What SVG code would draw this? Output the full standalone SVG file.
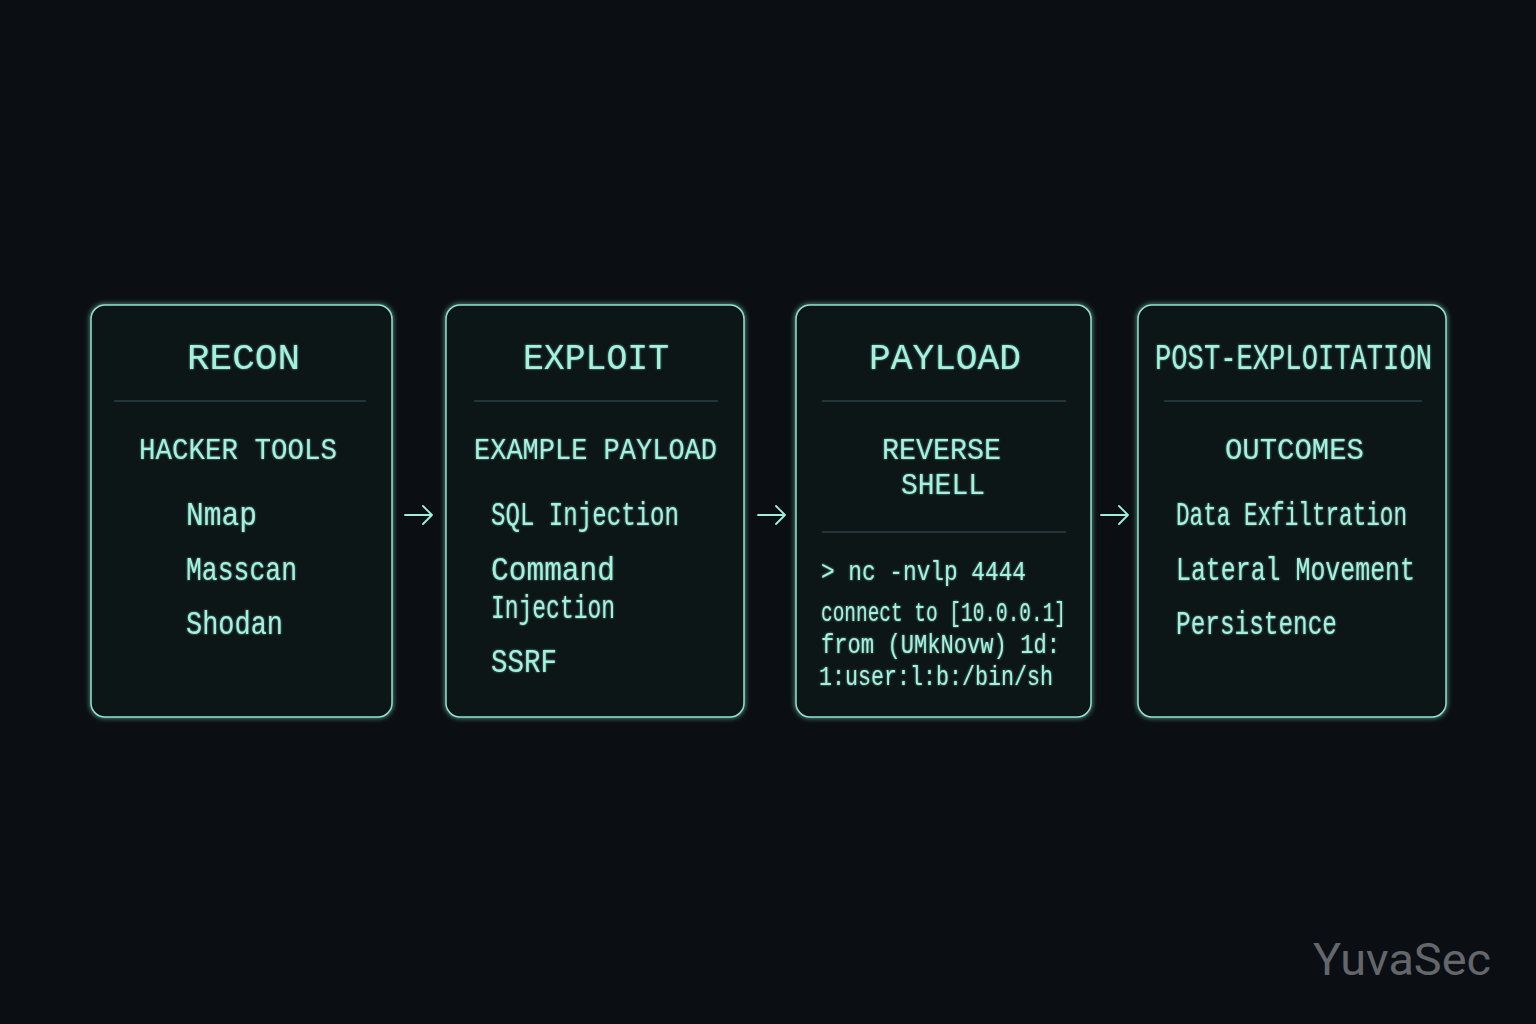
<svg xmlns="http://www.w3.org/2000/svg" width="1536" height="1024" viewBox="0 0 1536 1024">
<defs>
<style>
.box{fill:#0b1215;stroke:#8fe3cf;stroke-width:1.5}
.div{stroke:#2a4341;stroke-width:1.5}
text{font-family:"Liberation Mono","DejaVu Sans Mono",monospace;fill:#a3f2de}
.t{font-size:36px}
.s{font-size:30px}
.i{font-size:33px}
.m{font-size:28px}
.arr{fill:none;stroke:#9ff0dc;stroke-width:1.8;stroke-linecap:round;stroke-linejoin:round}
.wm{font-family:Roboto,"Liberation Sans",sans-serif;font-size:44px;fill:#63676c}
</style>
<filter id="glow" x="-10%" y="-10%" width="120%" height="120%">
<feGaussianBlur stdDeviation="2.5" result="b"/>
<feMerge><feMergeNode in="b"/><feMergeNode in="SourceGraphic"/></feMerge>
</filter>
<filter id="tglow" x="-10%" y="-30%" width="120%" height="160%">
<feGaussianBlur stdDeviation="1.2" result="b"/>
<feComponentTransfer in="b" result="c"><feFuncA type="linear" slope="0.6"/></feComponentTransfer>
<feMerge><feMergeNode in="c"/><feMergeNode in="SourceGraphic"/></feMerge>
</filter>
</defs>
<rect width="1536" height="1024" fill="#0b0f13"/>

<g id="recon">
<rect class="box" x="91" y="305" width="301" height="412" rx="14" filter="url(#glow)"/>
<line class="div" x1="114" y1="401" x2="366" y2="401"/>
<g filter="url(#tglow)">
<text class="t" x="187" y="369" textLength="113" lengthAdjust="spacingAndGlyphs">RECON</text>
<text class="s" x="139" y="459" textLength="198" lengthAdjust="spacingAndGlyphs">HACKER TOOLS</text>
<text class="i" x="186" y="525" textLength="71" lengthAdjust="spacingAndGlyphs">Nmap</text>
<text class="i" x="186" y="580" textLength="111" lengthAdjust="spacingAndGlyphs">Masscan</text>
<text class="i" x="186" y="634" textLength="97" lengthAdjust="spacingAndGlyphs">Shodan</text>
</g>
</g>

<g id="exploit">
<rect class="box" x="446" y="305" width="298" height="412" rx="14" filter="url(#glow)"/>
<line class="div" x1="474" y1="401" x2="718" y2="401"/>
<g filter="url(#tglow)">
<text class="t" x="523" y="369" textLength="146" lengthAdjust="spacingAndGlyphs">EXPLOIT</text>
<text class="s" x="474" y="459" textLength="243" lengthAdjust="spacingAndGlyphs">EXAMPLE PAYLOAD</text>
<text class="i" x="491" y="525" textLength="188" lengthAdjust="spacingAndGlyphs">SQL Injection</text>
<text class="i" x="491" y="580" textLength="124" lengthAdjust="spacingAndGlyphs">Command</text>
<text class="i" x="491" y="618" textLength="124" lengthAdjust="spacingAndGlyphs">Injection</text>
<text class="i" x="491" y="672" textLength="66" lengthAdjust="spacingAndGlyphs">SSRF</text>
</g>
</g>

<g id="payload">
<rect class="box" x="796" y="305" width="295" height="412" rx="14" filter="url(#glow)"/>
<line class="div" x1="822" y1="401" x2="1066" y2="401"/>
<line class="div" x1="822" y1="532" x2="1066" y2="532"/>
<g filter="url(#tglow)">
<text class="t" x="869" y="369" textLength="152" lengthAdjust="spacingAndGlyphs">PAYLOAD</text>
<text class="s" x="882" y="459" textLength="119" lengthAdjust="spacingAndGlyphs">REVERSE</text>
<text class="s" x="901" y="494" textLength="84" lengthAdjust="spacingAndGlyphs">SHELL</text>
<text class="m" x="821" y="580" textLength="205" lengthAdjust="spacingAndGlyphs">&gt; nc -nvlp 4444</text>
<text class="m" x="821" y="621" textLength="245" lengthAdjust="spacingAndGlyphs">connect to [10.0.0.1]</text>
<text class="m" x="821" y="653" textLength="239" lengthAdjust="spacingAndGlyphs">from (UMkNovw) 1d:</text>
<text class="m" x="819" y="685" textLength="234" lengthAdjust="spacingAndGlyphs">1:user:l:b:/bin/sh</text>
</g>
</g>

<g id="post-exploitation">
<rect class="box" x="1138" y="305" width="308" height="412" rx="14" filter="url(#glow)"/>
<line class="div" x1="1164" y1="401" x2="1422" y2="401"/>
<g filter="url(#tglow)">
<text class="t" x="1155" y="369" textLength="277" lengthAdjust="spacingAndGlyphs">POST-EXPLOITATION</text>
<text class="s" x="1225" y="459" textLength="139" lengthAdjust="spacingAndGlyphs">OUTCOMES</text>
<text class="i" x="1176" y="525" textLength="231" lengthAdjust="spacingAndGlyphs">Data Exfiltration</text>
<text class="i" x="1176" y="580" textLength="239" lengthAdjust="spacingAndGlyphs">Lateral Movement</text>
<text class="i" x="1176" y="634" textLength="161" lengthAdjust="spacingAndGlyphs">Persistence</text>
</g>
</g>

<g id="connectors">
<path class="arr" d="M405 515 H432 M423 506 L432 515 L423 524"/>
<path class="arr" d="M758 515 H785 M776 506 L785 515 L776 524"/>
<path class="arr" d="M1101 515 H1128 M1119 506 L1128 515 L1119 524"/>
</g>

<text class="wm" x="1313" y="975" textLength="178" lengthAdjust="spacingAndGlyphs">YuvaSec</text>
</svg>
